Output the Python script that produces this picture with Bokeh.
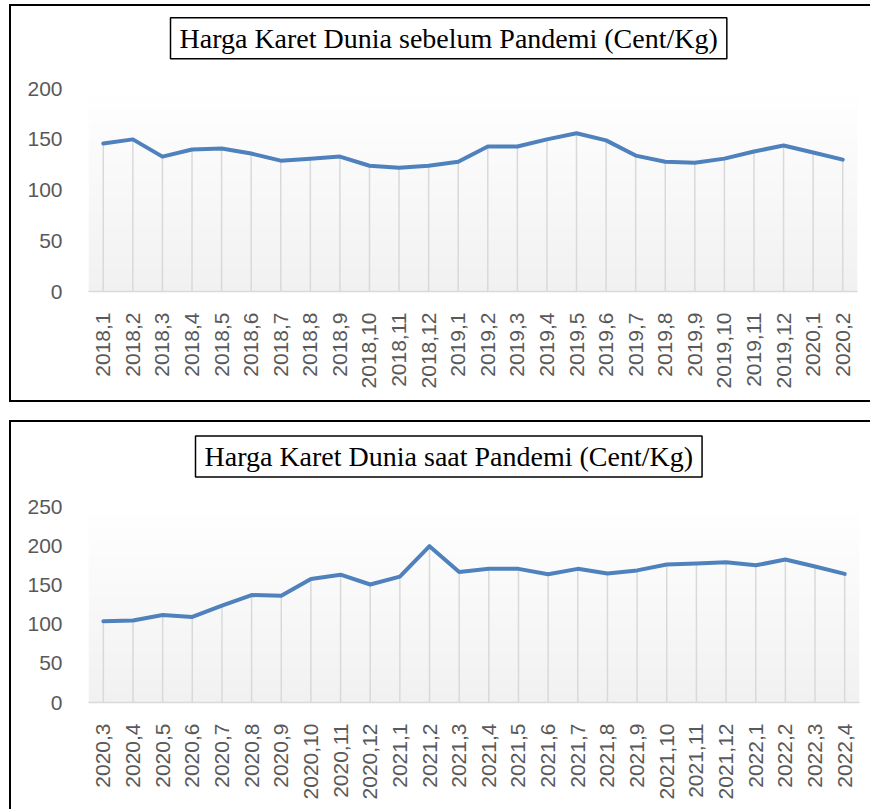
import math
import numpy as np
from bokeh.plotting import figure
from bokeh.models import Range1d, FixedTicker, Label
from bokeh.layouts import column
from bokeh.embed import file_html
from bokeh.resources import INLINE

pre_labels = ["2018,1", "2018,2", "2018,3", "2018,4", "2018,5", "2018,6", "2018,7",
              "2018,8", "2018,9", "2018,10", "2018,11", "2018,12",
              "2019,1", "2019,2", "2019,3", "2019,4", "2019,5", "2019,6", "2019,7",
              "2019,8", "2019,9", "2019,10", "2019,11", "2019,12", "2020,1", "2020,2"]
pre_values = [146, 150, 133, 140, 141, 136, 129, 131, 133, 124, 122, 124,
              128, 143, 143, 150, 156, 149, 134, 128, 127, 131, 138, 144, 137, 130]

during_labels = ["2020,3", "2020,4", "2020,5", "2020,6", "2020,7", "2020,8", "2020,9",
                 "2020,10", "2020,11", "2020,12",
                 "2021,1", "2021,2", "2021,3", "2021,4", "2021,5", "2021,6", "2021,7",
                 "2021,8", "2021,9", "2021,10", "2021,11", "2021,12",
                 "2022,1", "2022,2", "2022,3", "2022,4"]
during_values = [104, 105, 112, 109.5, 124, 137.5, 136.5, 158, 163.5, 151, 161, 200,
                 167, 171, 171, 164, 171, 165, 169, 176.5, 178, 179.5, 175.5, 183, 174, 164.5]

pre_ticks = [0, 50, 100, 150, 200]
during_ticks = [0, 50, 100, 150, 200, 250]

pre_title = "Harga Karet Dunia sebelum Pandemi (Cent/Kg)"
during_title = "Harga Karet Dunia saat Pandemi (Cent/Kg)"


def gradient_image(n=128):
    img = np.empty((n, 4), dtype=np.uint32)
    view = img.view(dtype=np.uint8).reshape((n, 4, 4))
    for i in range(n):
        g = int(round(241 + (255 - 241) * i / (n - 1)))
        view[i, :, :] = [g, g, g, 255]
    return img


def build(labels, values, ticks, title, frame_w, plot_h, head_h, mb_left, mb_right,
          mb_bottom, title_dx, title_dy, styles, margin):
    # the frame includes a blank head area above the value axis, for the title box
    y_end = ticks[-1] * (plot_h + head_h) / plot_h
    p = figure(x_range=labels, y_range=Range1d(ticks[0], y_end),
               frame_width=frame_w, frame_height=plot_h + head_h,
               min_border_left=mb_left, min_border_right=mb_right,
               min_border_top=0, min_border_bottom=mb_bottom,
               output_backend="svg", toolbar_location=None)
    # background gradient over the plot area (synthetic categorical coords)
    p.image_rgba(image=[gradient_image()], x=0, y=ticks[0],
                 dw=len(labels), dh=ticks[-1] - ticks[0])
    p.outline_line_color = None
    p.background_fill_color = "white"
    p.border_fill_color = "white"
    p.xgrid.grid_line_color = None
    p.ygrid.grid_line_color = None

    p.segment(x0=labels, y0=[0] * len(values), x1=labels, y1=values,
              line_color="#d9d9d9", line_width=1.5)
    p.line(labels, values, line_color="#4f81bd", line_width=4,
           line_join="round", line_cap="round")

    p.yaxis.ticker = FixedTicker(ticks=ticks)
    p.yaxis.axis_line_color = None
    p.yaxis.major_tick_line_color = None
    p.yaxis.minor_tick_line_color = None
    p.yaxis.major_label_standoff = 20
    p.yaxis.major_label_text_font = "Liberation Sans"
    p.yaxis.major_label_text_font_size = "21px"
    p.yaxis.major_label_text_color = "#595959"

    p.xaxis.axis_line_color = "#d9d9d9"
    p.xaxis.axis_line_width = 1.5
    p.xaxis.major_tick_line_color = None
    p.xaxis.minor_tick_line_color = None
    p.xaxis.major_label_orientation = math.pi / 2
    p.xaxis.major_label_standoff = 15
    p.xaxis.major_label_text_font = "Liberation Sans"
    p.xaxis.major_label_text_font_size = "21px"
    p.xaxis.major_label_text_color = "#595959"

    # boxed chart title, anchored at the top-left corner of the value area
    t = Label(x=0, y=ticks[-1], x_offset=title_dx, y_offset=title_dy,
              text=title, text_align="left", text_baseline="bottom",
              text_font="Liberation Serif", text_font_size="28px",
              text_color="black",
              border_line_color="black", border_line_width=1.5,
              background_fill_color="white", padding=(9, 5))
    p.add_layout(t)
    p.styles = styles
    p.margin = margin
    return p


p1 = build(pre_labels, pre_values, pre_ticks, pre_title,
           767, 200, 81, 77, 15, 113, 82, 30,
           {"border-left": "2px solid black", "border-top": "2px solid black",
            "border-bottom": "2px solid black"}, (4, 0, 0, 9))
p2 = build(during_labels, during_values, during_ticks, during_title,
           769, 194, 84, 77, 13, 109, 107, 30,
           {"border-left": "2px solid black", "border-top": "2px solid black"},
           (0, 0, 0, 9))

layout = column(p1, p2, spacing=18)

with open("out.html", "w") as f:
    f.write(file_html(layout, INLINE))
